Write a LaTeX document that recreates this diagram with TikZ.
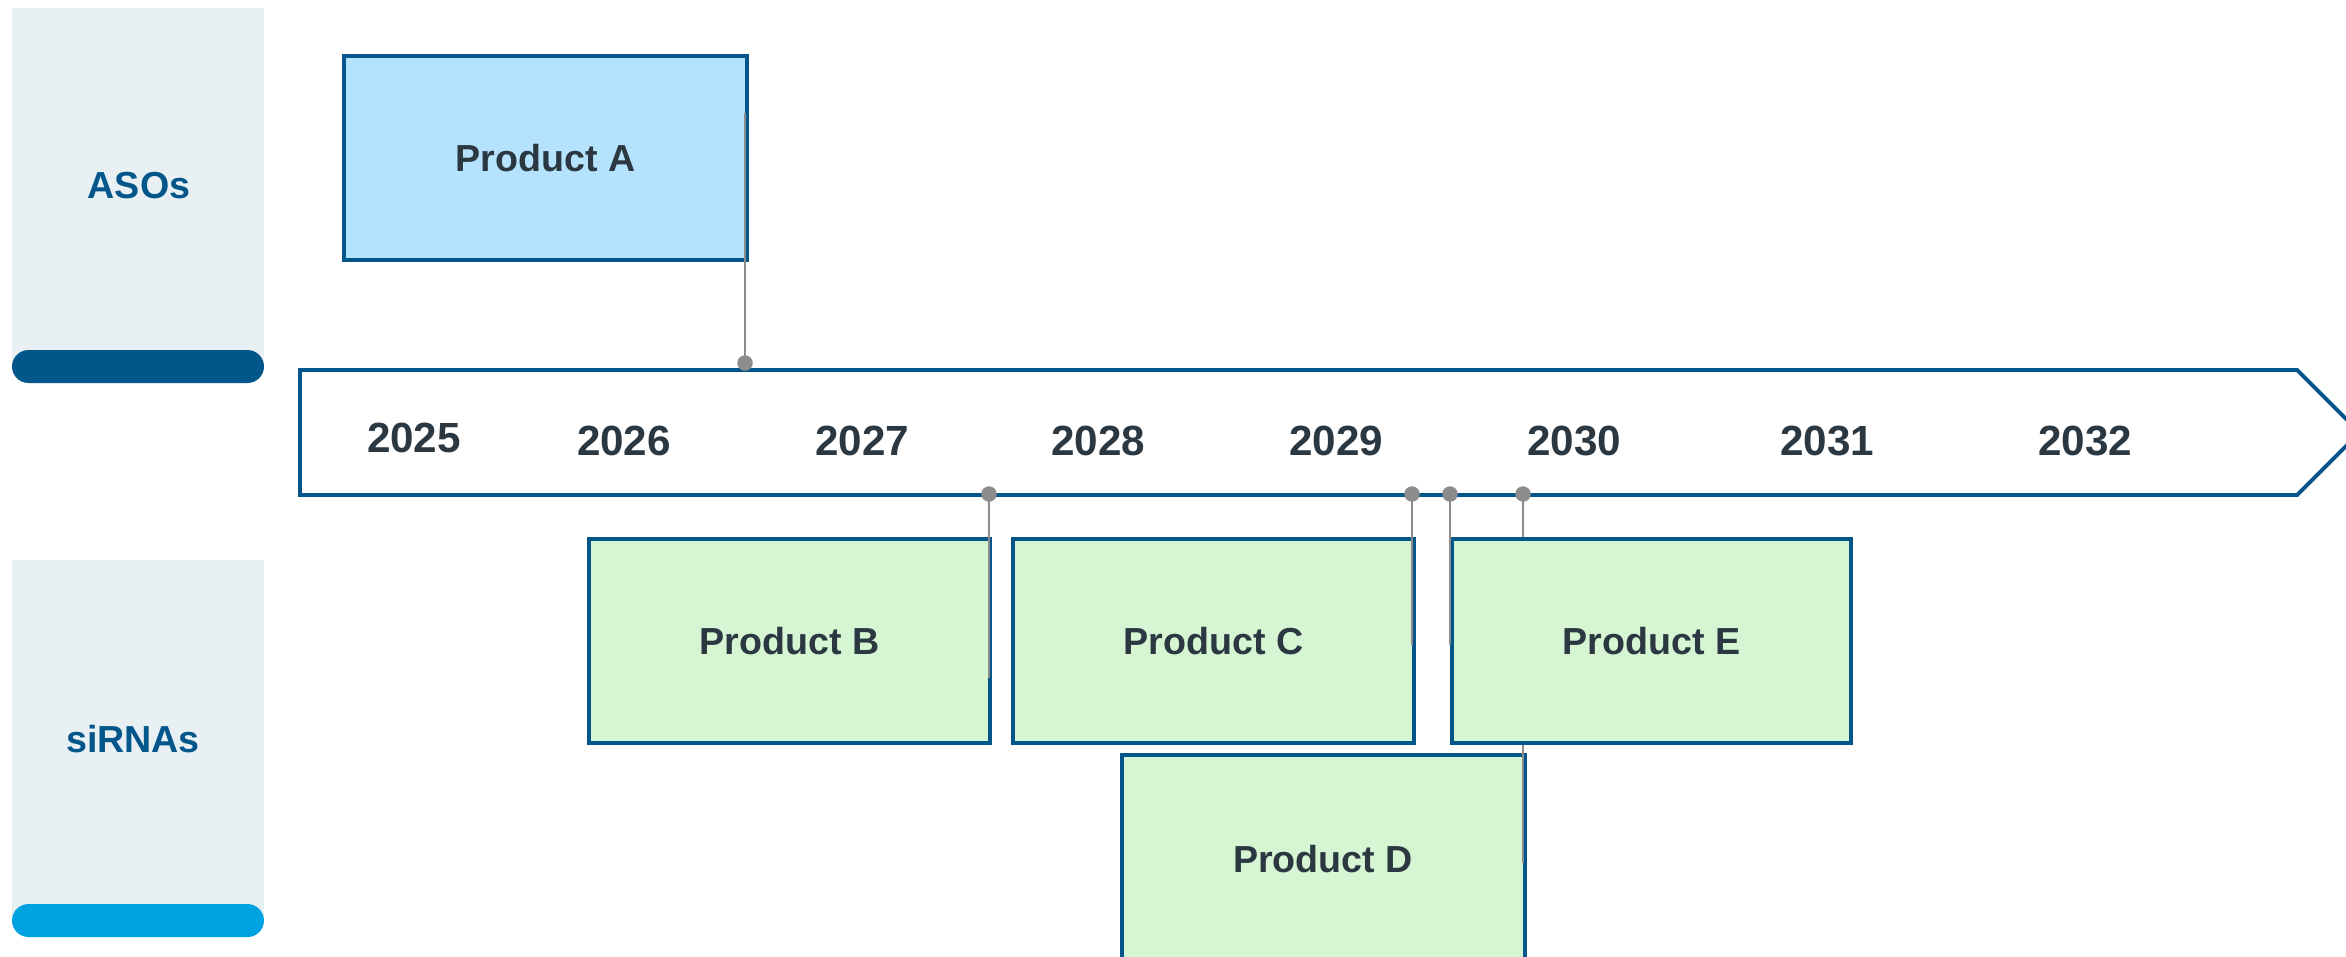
\documentclass[tikz,border=0pt]{standalone}
\usepackage{fontspec}
\setmainfont{Liberation Sans}
\definecolor{navy}{HTML}{03568A}
\definecolor{txtdark}{HTML}{2B3741}
\definecolor{afill}{HTML}{B5E3FD}
\definecolor{gfill}{HTML}{D6F5D2}
\definecolor{panelbg}{HTML}{E8F0F4}
\definecolor{pilllight}{HTML}{00A3E0}
\definecolor{connc}{HTML}{8C8C8C}
\begin{document}
\begin{tikzpicture}[x=0.01cm,y=-0.01cm,
  pbox/.style={draw=navy,line width=1pt,anchor=north west,inner sep=0pt,
    minimum width=4.01cm,minimum height=2.04cm,
    font=\fontsize{10.7pt}{12pt}\selectfont\bfseries,text=txtdark},
  yearlbl/.style={font=\fontsize{12pt}{14pt}\selectfont\bfseries,text=txtdark,inner sep=0pt},
  grouplbl/.style={font=\fontsize{10.7pt}{12pt}\selectfont\bfseries,text=navy,inner sep=0pt},
  conn/.style={draw=connc,line width=0.65pt},
  dotmark/.style={circle,fill=connc,inner sep=0pt,minimum size=0.155cm},
  pill/.style={rounded corners=0.165cm}]
\useasboundingbox (0,0) rectangle (2346,956);
\begin{scope}
\clip (0,0) rectangle (2346,956);
% side panels
\fill[panelbg] (12,8) rectangle (264,366);
\fill[navy,pill] (12,350) rectangle (264,383);
\node[grouplbl] (aso) at (139,186) {ASOs};
\fill[panelbg] (12,560) rectangle (264,920);
\fill[pilllight,pill] (12,904) rectangle (264,937);
\node[grouplbl] (sirna) at (133,739) {siRNAs};
% timeline arrow
\draw[navy,line width=1.1pt,fill=white,line join=miter]
  (300,370) -- (2297,370) -- (2359.5,432.5) -- (2297,495) -- (300,495) -- cycle;
\node[yearlbl] (y2025) at (414,438) {2025};
\node[yearlbl] (y2026) at (624,441) {2026};
\node[yearlbl] (y2027) at (862,441) {2027};
\node[yearlbl] (y2028) at (1098,441) {2028};
\node[yearlbl] (y2029) at (1336,441) {2029};
\node[yearlbl] (y2030) at (1574,441) {2030};
\node[yearlbl] (y2031) at (1827,441) {2031};
\node[yearlbl] (y2032) at (2085,441) {2032};
% dots positions
\coordinate (pA) at (745,363);
\coordinate (pB) at (989,494);
\coordinate (pC) at (1412,494);
\coordinate (pE1) at (1450,494);
\coordinate (pD) at (1523,494);
% boxes
\node[pbox,fill=afill,minimum width=4.03cm] (A) at (342,54) {Product A};
\node[pbox,fill=gfill] (B) at (587,537) {Product B};
\node[pbox,fill=gfill,minimum width=4.01cm] (C) at (1011,537) {Product C};
\node[pbox,fill=gfill,minimum height=2.07cm,minimum width=4.03cm] (D) at (1120,753) {};
\node[txtdark,font=\fontsize{10.7pt}{12pt}\selectfont\bfseries,inner sep=0pt] (Dl) at (1323,859) {Product D};
\coordinate (eD) at (1523,863);
\draw[conn] (pD) -- (eD);
\node[pbox,fill=gfill,minimum width=3.99cm] (E) at (1450,537) {Product E};
% connectors
\coordinate (eA) at (745,113);
\coordinate (eB) at (989,678);
\coordinate (eC) at (1412,645);
\coordinate (eE1) at (1450,645);
\coordinate (eE2) at (1523,537);
\draw[conn] (pA) -- (eA);
\draw[conn] (pB) -- (eB);
\draw[conn] (pC) -- (eC);
\draw[conn] (pE1) -- (eE1);
\draw[conn] (pD) -- (eE2);
\node[dotmark] (dA) at (pA) {};
\node[dotmark] (dB) at (pB) {};
\node[dotmark] (dC) at (pC) {};
\node[dotmark] (dE) at (pE1) {};
\node[dotmark] (dD) at (pD) {};
\end{scope}
\end{tikzpicture}
\end{document}
